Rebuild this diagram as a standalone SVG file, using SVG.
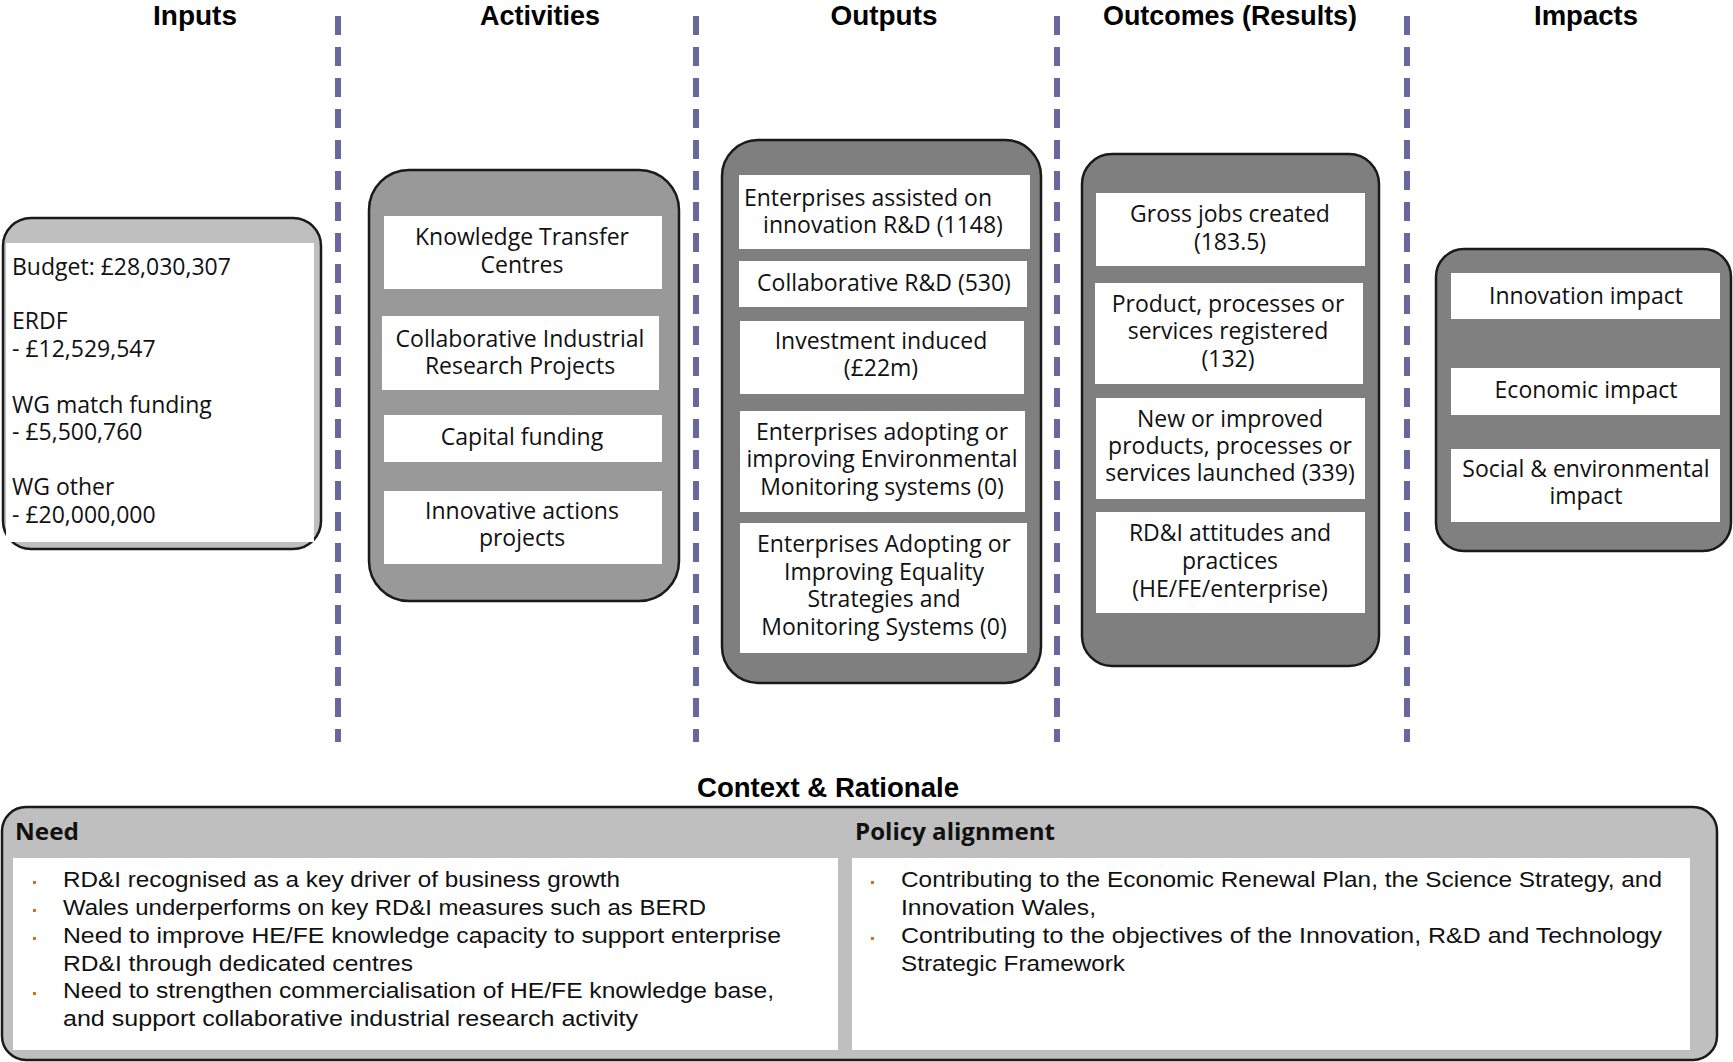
<svg xmlns="http://www.w3.org/2000/svg" width="1733" height="1062" viewBox="0 0 1733 1062">
<style>
.title{font-family:"Liberation Sans",Arial,sans-serif;font-weight:bold;font-size:27px;fill:#000;text-anchor:middle}
.t{font-family:"Open Sans","Noto Sans",sans-serif;font-size:23px;fill:#111}
.c{text-anchor:middle}
.box{stroke:#1a1a1a;stroke-width:2.5}
.w{fill:#fff}
.hdr{font-family:"Open Sans","Noto Sans",sans-serif;font-weight:bold;font-size:24px;fill:#111}
.b{font-family:"Liberation Sans",Arial,sans-serif;font-size:22px;fill:#111}
.dot{fill:#E46C0A}
.dash{stroke:#68689C;stroke-width:6;stroke-dasharray:19 12;fill:none}
</style>
<rect width="1733" height="1062" fill="#fff"/>
<g id="titles">
<text class="title" x="195" y="25" textLength="84" lengthAdjust="spacingAndGlyphs">Inputs</text>
<text class="title" x="540" y="25" textLength="120" lengthAdjust="spacingAndGlyphs">Activities</text>
<text class="title" x="884" y="25" textLength="107" lengthAdjust="spacingAndGlyphs">Outputs</text>
<text class="title" x="1230" y="25" textLength="254" lengthAdjust="spacingAndGlyphs">Outcomes (Results)</text>
<text class="title" x="1586" y="25" textLength="104" lengthAdjust="spacingAndGlyphs">Impacts</text>
</g>
<g id="connectors">
<line class="dash" x1="338" y1="16" x2="338" y2="742"/>
<line class="dash" x1="696" y1="16" x2="696" y2="742"/>
<line class="dash" x1="1057" y1="16" x2="1057" y2="742"/>
<line class="dash" x1="1407" y1="16" x2="1407" y2="742"/>
</g>
<g id="inputs">
<rect class="box" x="3" y="218" width="318" height="331" rx="28" fill="#BFBFBF"/>
<rect class="w" x="6" y="243" width="308" height="299"/>
<text class="t" x="12" y="275">Budget: £28,030,307</text>
<text class="t" x="12" y="329">ERDF</text>
<text class="t" x="12" y="357">- £12,529,547</text>
<text class="t" x="12" y="413">WG match funding</text>
<text class="t" x="12" y="440">- £5,500,760</text>
<text class="t" x="12" y="495">WG other</text>
<text class="t" x="12" y="523">- £20,000,000</text>
</g>
<g id="activities">
<rect class="box" x="369" y="170" width="310" height="431" rx="40" fill="#999999"/>
<rect class="w" x="384" y="216" width="278" height="73"/>
<rect class="w" x="382" y="316" width="277" height="74"/>
<rect class="w" x="384" y="415" width="278" height="47"/>
<rect class="w" x="384" y="491" width="278" height="73"/>
<text class="t c" x="522" y="245">Knowledge Transfer</text>
<text class="t c" x="522" y="273">Centres</text>
<text class="t c" x="520" y="347">Collaborative Industrial</text>
<text class="t c" x="520" y="374">Research Projects</text>
<text class="t c" x="522" y="445">Capital funding</text>
<text class="t c" x="522" y="519">Innovative actions</text>
<text class="t c" x="522" y="546">projects</text>
</g>
<g id="outputs">
<rect class="box" x="722" y="140" width="319" height="543" rx="36" fill="#7F7F7F"/>
<rect class="w" x="739" y="175" width="291" height="74"/>
<rect class="w" x="739" y="261" width="288" height="46"/>
<rect class="w" x="740" y="321" width="284" height="73"/>
<rect class="w" x="740" y="411" width="285" height="101"/>
<rect class="w" x="740" y="523" width="287" height="130"/>
<text class="t c" x="868" y="206">Enterprises assisted on</text>
<text class="t c" x="883" y="233">innovation R&amp;D (1148)</text>
<text class="t c" x="884" y="291">Collaborative R&amp;D (530)</text>
<text class="t c" x="881" y="349">Investment induced</text>
<text class="t c" x="881" y="376">(£22m)</text>
<text class="t c" x="882" y="440">Enterprises adopting or</text>
<text class="t c" x="882" y="467">improving Environmental</text>
<text class="t c" x="882" y="495">Monitoring systems (0)</text>
<text class="t c" x="884" y="552">Enterprises Adopting or</text>
<text class="t c" x="884" y="580">Improving Equality</text>
<text class="t c" x="884" y="607">Strategies and</text>
<text class="t c" x="884" y="635">Monitoring Systems (0)</text>
</g>
<g id="outcomes">
<rect class="box" x="1082" y="154" width="297" height="512" rx="30" fill="#7F7F7F"/>
<rect class="w" x="1096" y="193" width="269" height="73"/>
<rect class="w" x="1095" y="283" width="268" height="101"/>
<rect class="w" x="1096" y="398" width="269" height="101"/>
<rect class="w" x="1096" y="512" width="269" height="101"/>
<text class="t c" x="1230" y="222">Gross jobs created</text>
<text class="t c" x="1230" y="250">(183.5)</text>
<text class="t c" x="1228" y="312">Product, processes or</text>
<text class="t c" x="1228" y="339">services registered</text>
<text class="t c" x="1228" y="367">(132)</text>
<text class="t c" x="1230" y="427">New or improved</text>
<text class="t c" x="1230" y="454">products, processes or</text>
<text class="t c" x="1230" y="481">services launched (339)</text>
<text class="t c" x="1230" y="541">RD&amp;I attitudes and</text>
<text class="t c" x="1230" y="569">practices</text>
<text class="t c" x="1230" y="597">(HE/FE/enterprise)</text>
</g>
<g id="impacts">
<rect class="box" x="1436" y="249" width="295" height="302" rx="28" fill="#808080"/>
<rect class="w" x="1451" y="273" width="269" height="46"/>
<rect class="w" x="1451" y="368" width="269" height="47"/>
<rect class="w" x="1451" y="449" width="269" height="73"/>
<text class="t c" x="1586" y="304">Innovation impact</text>
<text class="t c" x="1586" y="398">Economic impact</text>
<text class="t c" x="1586" y="477">Social &amp; environmental</text>
<text class="t c" x="1586" y="504">impact</text>
</g>
<g id="context">
<text class="title" x="828" y="797" textLength="262" lengthAdjust="spacingAndGlyphs">Context &amp; Rationale</text>
<rect class="box" x="2" y="807" width="1715" height="253" rx="24" fill="#BFBFBF"/>
<rect class="w" x="13" y="858" width="825" height="192"/>
<rect class="w" x="852" y="858" width="838" height="192"/>
<text class="hdr" x="15" y="840" textLength="64" lengthAdjust="spacingAndGlyphs">Need</text>
<text class="hdr" x="855" y="840" textLength="200" lengthAdjust="spacingAndGlyphs">Policy alignment</text>
<rect class="dot" x="33" y="881" width="3" height="3"/>
<rect class="dot" x="33" y="909" width="3" height="3"/>
<rect class="dot" x="33" y="937" width="3" height="3"/>
<rect class="dot" x="33" y="992" width="3" height="3"/>
<text class="b" x="63" y="887" textLength="557" lengthAdjust="spacingAndGlyphs">RD&amp;I recognised as a key driver of business growth</text>
<text class="b" x="63" y="915" textLength="643" lengthAdjust="spacingAndGlyphs">Wales underperforms on key RD&amp;I measures such as BERD</text>
<text class="b" x="63" y="943" textLength="718" lengthAdjust="spacingAndGlyphs">Need to improve HE/FE knowledge capacity to support enterprise</text>
<text class="b" x="63" y="971" textLength="350" lengthAdjust="spacingAndGlyphs">RD&amp;I through dedicated centres</text>
<text class="b" x="63" y="998" textLength="711" lengthAdjust="spacingAndGlyphs">Need to strengthen commercialisation of HE/FE knowledge base,</text>
<text class="b" x="63" y="1026" textLength="575" lengthAdjust="spacingAndGlyphs">and support collaborative industrial research activity</text>
<rect class="dot" x="871" y="881" width="3" height="3"/>
<rect class="dot" x="871" y="937" width="3" height="3"/>
<text class="b" x="901" y="887" textLength="761" lengthAdjust="spacingAndGlyphs">Contributing to the Economic Renewal Plan, the Science Strategy, and</text>
<text class="b" x="901" y="915" textLength="195" lengthAdjust="spacingAndGlyphs">Innovation Wales,</text>
<text class="b" x="901" y="943" textLength="761" lengthAdjust="spacingAndGlyphs">Contributing to the objectives of the Innovation, R&amp;D and Technology</text>
<text class="b" x="901" y="971" textLength="224" lengthAdjust="spacingAndGlyphs">Strategic Framework</text>
</g>
</svg>
